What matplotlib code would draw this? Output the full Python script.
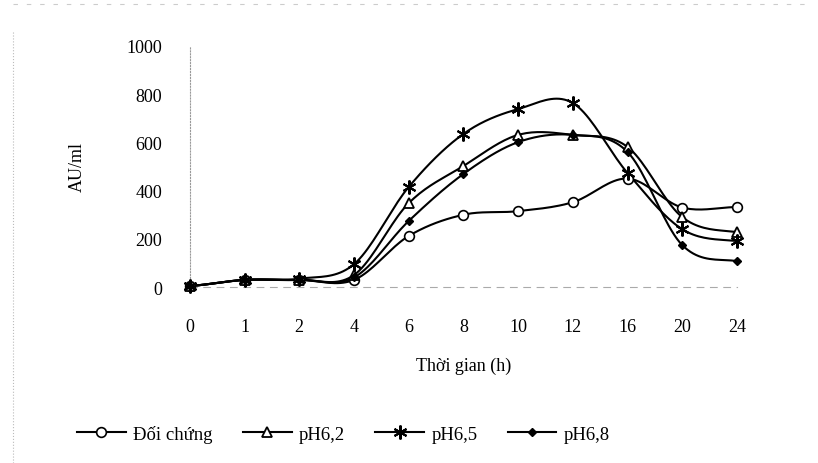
import numpy as np
import matplotlib.pyplot as plt
from matplotlib.lines import Line2D

plt.rcParams['font.family'] = ['Liberation Serif', 'DejaVu Serif']

# du lieu doc tu hinh
hours = ['0', '1', '2', '4', '6', '8', '10', '12', '16', '20', '24']
doi_chung = [5, 30, 30, 30, 212, 300, 315, 352, 450, 330, 332]
ph62 = [5, 30, 30, 50, 348, 502, 631, 631, 581, 290, 228]
ph65 = [5, 30, 35, 95, 415, 635, 738, 763, 473, 240, 191]
ph68 = [5, 30, 30, 40, 274, 469, 601, 631, 560, 174, 108]


def smooth(y, n=20):
    # duong cong kieu Excel (Catmull-Rom)
    y = np.asarray(y, float)
    x = np.arange(len(y), dtype=float)
    px = np.concatenate([[2 * x[0] - x[1]], x, [2 * x[-1] - x[-2]]])
    py = np.concatenate([[y[0]], y, [y[-1]]])
    xs, ys = [], []
    t = np.linspace(0, 1, n, endpoint=False)
    for i in range(1, len(px) - 2):
        for arr, out in ((px, xs), (py, ys)):
            p0, p1, p2, p3 = arr[i - 1], arr[i], arr[i + 1], arr[i + 2]
            out.extend(0.5 * ((2 * p1) + (-p0 + p2) * t
                              + (2 * p0 - 5 * p1 + 4 * p2 - p3) * t ** 2
                              + (-p0 + 3 * p1 - 3 * p2 + p3) * t ** 3))
    xs.append(x[-1])
    ys.append(y[-1])
    return np.array(xs), np.array(ys)


fig = plt.figure(figsize=(8.18, 4.64), dpi=100)
ax = fig.add_axes([0.232, 0.379, 0.669, 0.520])

styles = [
    (doi_chung, 'Đối chứng', dict(marker='o', ms=7, mfc='white', mew=1.2)),
    (ph62, 'pH6,2', dict(marker='^', ms=7, mfc='white', mew=1.3)),
    (ph65, 'pH6,5', dict(marker=(6, 2, 0), ms=10, mew=1.5)),
    (ph68, 'pH6,8', dict(marker='D', ms=4.5)),
]

handles = []
for vals, name, st in styles:
    xs, ys = smooth(vals)
    ax.plot(xs, ys, color='black', lw=1.5, clip_on=False, zorder=2)
    ax.plot(range(len(vals)), vals, ls='none', color='black', mec='black',
            clip_on=False, zorder=3, **st)
    handles.append(Line2D([], [], color='black', lw=1.5, label=name, **st))

ax.set_xlim(0, len(hours) - 1)
ax.set_ylim(0, 1000)
ax.set_xticks(range(len(hours)))
ax.set_xticklabels(hours)
ax.set_yticks([0, 200, 400, 600, 800, 1000])

for s in ['top', 'right']:
    ax.spines[s].set_visible(False)
ax.spines['left'].set_linestyle(':')
ax.spines['left'].set_color('#999999')
ax.spines['bottom'].set_linestyle((0, (6, 6)))
ax.spines['bottom'].set_color('#aaaaaa')
ax.tick_params(axis='both', length=0, labelsize=13)
ax.tick_params(axis='y', pad=20)
ax.tick_params(axis='x', pad=22)

ax.set_xlabel('Thời gian (h)', fontsize=13, labelpad=16)
fig.text(0.094, 0.64, 'AU/ml', rotation=90, fontsize=13,
         ha='center', va='center')

fig.legend(handles=handles, loc='center left', bbox_to_anchor=(0.085, 0.063),
           ncol=4, frameon=False, fontsize=13.5, handlelength=2.6,
           handletextpad=0.4, columnspacing=1.6, borderaxespad=0)

# vien khung bieu do (net dut mo)
fig.add_artist(Line2D([0.016, 0.016], [0.0, 0.93], transform=fig.transFigure,
                      color='#bbbbbb', lw=0.8, ls=':'))
fig.add_artist(Line2D([0.016, 0.99], [0.99, 0.99], transform=fig.transFigure,
                      color='#cccccc', lw=0.8, ls=(0, (4, 8))))

fig.savefig('out.png', dpi=100)
